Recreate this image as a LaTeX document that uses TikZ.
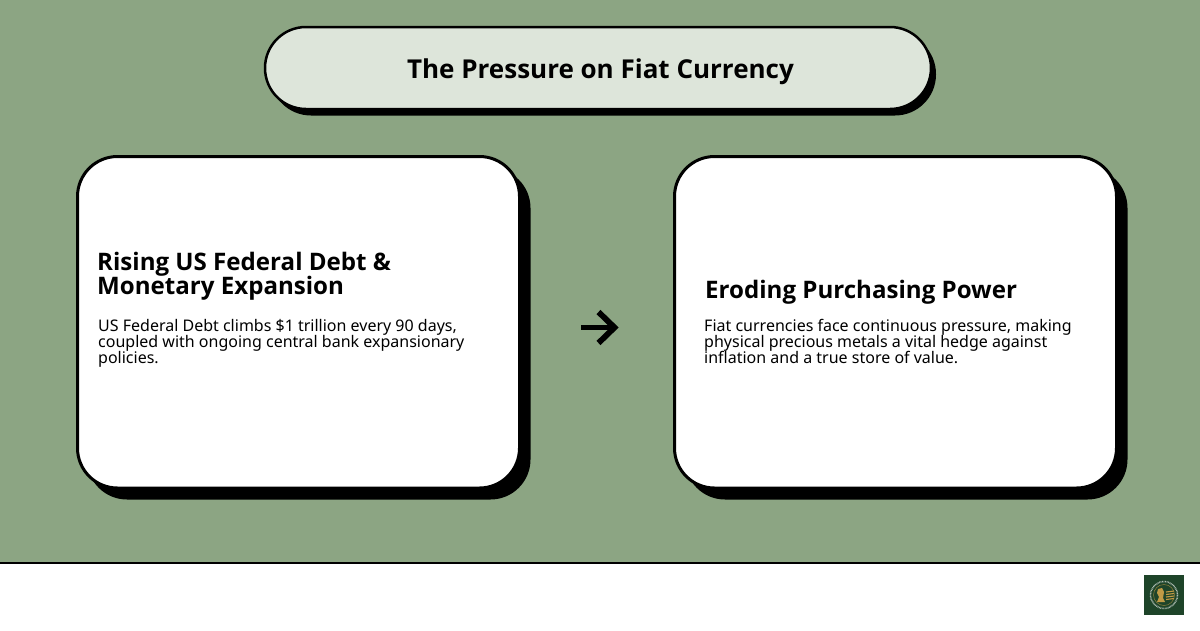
\documentclass[tikz,border=0pt]{standalone}
\usepackage{fontspec}
\setmainfont{Noto Sans}
\newfontfamily\headfont{Open Sans}
\lineskiplimit=-40pt
\definecolor{bgsage}{HTML}{8CA583}
\definecolor{pill}{HTML}{DDE5DA}
\definecolor{logobg}{HTML}{1E4429}
\definecolor{logogold}{HTML}{C09A45}
\tikzset{
  x=1pt,y=-1pt,
  shadowbox/.style={fill=black,draw=none},
  card/.style={draw=black,line width=3pt,fill=white},
  pillbox/.style={draw=black,line width=2.5pt,fill=pill},
  head/.style={anchor=base west,inner sep=0pt,align=left,font=\fontsize{24.1}{24}\selectfont\headfont\bfseries},
  bodytext/.style={anchor=base west,inner sep=0pt,align=left,font=\fontsize{16}{16}\selectfont},
  titletext/.style={inner sep=0pt,font=\fontsize{26}{30}\selectfont\headfont\bfseries},
  flow/.style={draw=black,line width=5.8pt},
}
\begin{document}
\begin{tikzpicture}
\useasboundingbox (0,0) rectangle (1200,630);
\fill[white] (0,0) rectangle (1200,630);
\fill[bgsage] (0,0) rectangle (1200,562);
\draw[black,line width=2pt] (0,562.5) -- (1200,562.5);
% title
\fill[shadowbox,rounded corners=41pt] (270,33) rectangle (936,115.5);
\draw[pillbox,rounded corners=41pt] (265,27) rectangle (931,109);
\node[titletext] (title) at (600.5,71.5) {The Pressure on Fiat Currency};
% cards
\fill[shadowbox,rounded corners=40pt] (87,168) rectangle (530.5,499.5);
\draw[card,rounded corners=40pt] (77.5,156.5) rectangle (519.5,488);
\fill[shadowbox,rounded corners=40pt] (685,168) rectangle (1127.5,499.5);
\draw[card,rounded corners=40pt] (674.5,156.5) rectangle (1116.5,488);
\node[head] (lefthead) at (97,294) {Rising US Federal Debt \&\\Monetary Expansion};
\node[bodytext] (leftbody) at (98,363) {US Federal Debt climbs \$1 trillion every 90 days,\\coupled with ongoing central bank expansionary\\policies.};
\node[head] (righthead) at (705,298) {Eroding Purchasing Power};
\node[bodytext] (rightbody) at (704,363) {Fiat currencies face continuous pressure, making\\physical precious metals a vital hedge against\\inflation and a true store of value.};
% arrow
\coordinate (arrowstart) at (581,327.5);
\coordinate (arrowtip) at (614.5,327.5);
\coordinate (arrowup) at (598.5,312);
\coordinate (arrowdown) at (598.5,343);
\draw[flow] (arrowstart) -- (arrowtip);
\draw[flow,miter limit=10] (arrowup) -- (arrowtip) -- (arrowdown);
% logo
\fill[logobg] (1144,575) rectangle (1184,615);
\draw[white!65!logobg,line width=1.5pt,dash pattern=on .8pt off .7pt] (1164,595) circle (13.5);
\draw[logogold!70!logobg,line width=.5pt] (1164,595) circle (10.5);
\fill[logogold] (1158,589) -- (1162,588) -- (1164,592) -- (1163,598) -- (1165,602) -- (1157,602) -- (1159,597) -- (1157,593) -- cycle;
\foreach \yy in {592,594.5,597,599.5}
  \draw[logogold,line width=1.1pt] (1166,\yy) -- (1174,\yy-1);
\end{tikzpicture}
\end{document}
